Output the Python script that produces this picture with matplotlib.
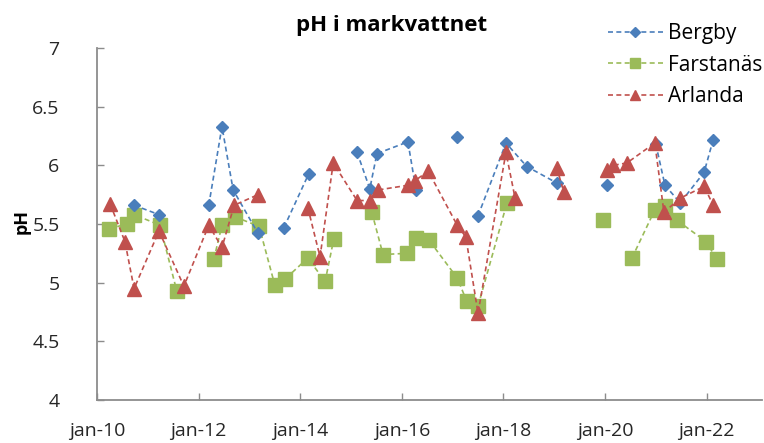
import numpy as np
import matplotlib
matplotlib.use("Agg")
from matplotlib import pyplot as plt

# decimal years, None marks a break in the line
bergby_x = [2010.73, 2011.22, None, 2012.20, 2012.46, 2012.68, 2013.17, None,
            2013.68, 2014.17, None, 2015.12, 2015.37, 2015.51, 2016.12, 2016.28, None,
            2017.09, None, 2017.50, 2018.05, 2018.46, 2019.05, None,
            2020.04, None, 2021.00, 2021.18, 2021.48, 2021.95, 2022.13]
bergby_ph = [5.66, 5.58, None, 5.66, 6.33, 5.79, 5.42, None,
             5.47, 5.93, None, 6.11, 5.80, 6.10, 6.20, 5.79, None,
             6.24, None, 5.57, 6.19, 5.99, 5.85, None,
             5.83, None, 6.18, 5.83, 5.68, 5.94, 6.22]

farstanas_x = [2010.24, 2010.59, 2010.73, 2011.24, 2011.57, None,
               2012.30, 2012.46, 2012.72, 2013.19, 2013.50, 2013.70, 2014.15, 2014.49, 2014.66, None,
               2015.41, 2015.63, 2016.10, 2016.28, 2016.54, 2017.09, 2017.28, 2017.50, 2018.07, None,
               2019.96, None,
               2020.53, 2020.98, 2021.18, 2021.42, 2021.99, 2022.20]
farstanas_ph = [5.46, 5.50, 5.58, 5.49, 4.93, None,
                5.20, 5.49, 5.56, 5.48, 4.98, 5.03, 5.21, 5.01, 5.37, None,
                5.60, 5.24, 5.25, 5.38, 5.36, 5.04, 4.84, 4.80, 5.68, None,
                5.53, None,
                5.21, 5.62, 5.65, 5.53, 5.35, 5.20]

arlanda_x = [2010.26, 2010.55, 2010.73, 2011.22, 2011.71, 2012.20, 2012.46, 2012.70, 2013.17, None,
             2014.15, 2014.39, 2014.65, 2015.12, 2015.37, 2015.53, 2016.12, 2016.26, 2016.52,
             2017.09, 2017.26, 2017.50, 2018.05, 2018.23, None,
             2019.05, 2019.19, None,
             2020.04, 2020.16, 2020.43, 2020.98, 2021.16, 2021.48, 2021.95, 2022.13]
arlanda_ph = [5.67, 5.35, 4.95, 5.44, 4.97, 5.49, 5.30, 5.66, 5.75, None,
              5.64, 5.22, 6.02, 5.70, 5.70, 5.79, 5.83, 5.87, 5.95,
              5.49, 5.39, 4.74, 6.11, 5.72, None,
              5.98, 5.77, None,
              5.96, 6.00, 6.02, 6.19, 5.60, 5.72, 5.82, 5.66]

tick_years = [2010, 2012, 2014, 2016, 2018, 2020, 2022]
tick_labels = ["jan-10", "jan-12", "jan-14", "jan-16", "jan-18", "jan-20", "jan-22"]
y_ticks = [4, 4.5, 5, 5.5, 6, 6.5, 7]


def arr(v):
    return np.array([np.nan if a is None else a for a in v], dtype=float)


plt.rcParams["font.family"] = ["Open Sans", "DejaVu Sans"]

fig = plt.figure(figsize=(7.64, 4.43), dpi=100)
ax = fig.add_axes([97 / 764, 1 - 400 / 443, 665 / 764, 352 / 443])

ax.plot(arr(bergby_x), arr(bergby_ph), color="#4A7EBB", ls=(0, (3, 2)), lw=1.2,
        marker="D", ms=6.5, mec="#4A7EBB", label="Bergby", zorder=3)
ax.plot(arr(farstanas_x), arr(farstanas_ph), color="#9BBB59", ls=(0, (3, 2)), lw=1.2,
        marker="s", ms=10, mec="#9BBB59", label="Farstanäs", zorder=2)
ax.plot(arr(arlanda_x), arr(arlanda_ph), color="#C0504D", ls=(0, (3, 2)), lw=1.2,
        marker="^", ms=10.5, mec="#C0504D", label="Arlanda", zorder=4)

ax.set_xlim(2010, 2023.09)
ax.set_ylim(4, 7)
ax.set_xticks(tick_years)
ax.set_xticklabels(tick_labels)
ax.set_yticks(y_ticks)
ax.set_yticklabels([f"{t:g}" for t in y_ticks])

for s in ["top", "right"]:
    ax.spines[s].set_visible(False)
for s in ["left", "bottom"]:
    ax.spines[s].set_color("#8C8C8C")
    ax.spines[s].set_linewidth(1.3)
ax.tick_params(axis="both", direction="in", length=5, width=1, color="#8C8C8C",
               labelsize=14, labelcolor="#262626")
ax.tick_params(axis="x", pad=16)
ax.tick_params(axis="y", pad=27)

fig.text(22 / 764, 1 - 222 / 443, "pH", rotation=90, ha="center", va="center",
         fontsize=13, fontweight="bold")
fig.text(392 / 764, 1 - 26 / 443, "pH i markvattnet", ha="center", va="center",
         fontsize=16, fontweight="bold")

fig.legend(loc="upper left", bbox_to_anchor=(600 / 764, 1 - 15 / 443), frameon=False,
           fontsize=15, handlelength=2.6, handletextpad=0.25, labelspacing=0.5,
           markerscale=0.75, borderaxespad=0)

plt.savefig("out.png", dpi=100)
